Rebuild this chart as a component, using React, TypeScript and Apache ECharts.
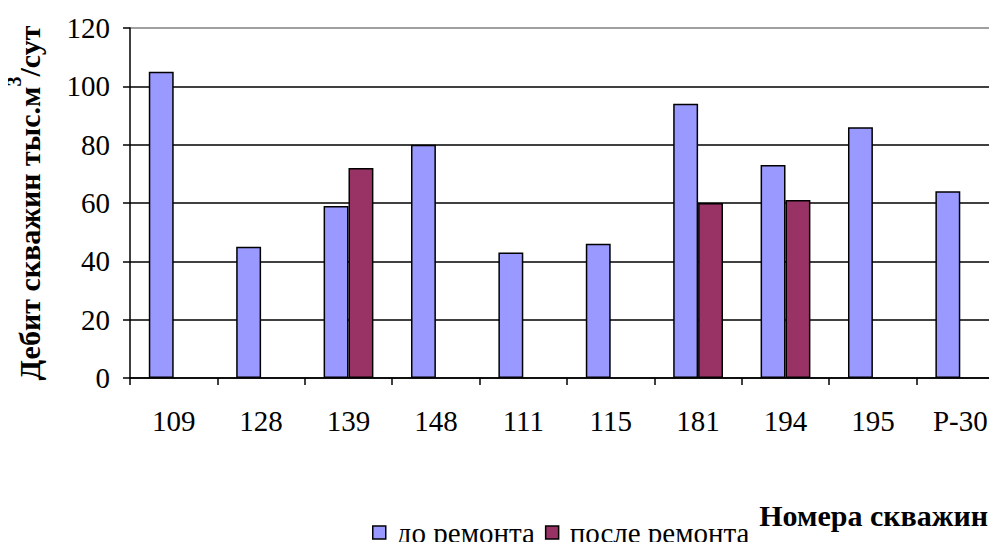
import React, { useEffect, useRef } from "react";
import * as echarts from "echarts";

const categories = ["109", "128", "139", "148", "111", "115", "181", "194", "195", "Р-30"];
const beforeRepair = [105, 45, 59, 80, 43, 46, 94, 73, 86, 64];
const afterRepair = [null, null, 72, null, null, null, 60, 61, null, null];
const seriesNames = ["до ремонта", "после ремонта"];
const yTicks = { min: 0, max: 120, interval: 20 };

const FONT = '"Liberation Serif", "Times New Roman", serif';

export default function App() {
  const ref = useRef<HTMLDivElement>(null);
  useEffect(() => {
    const chart = echarts.init(ref.current!, undefined, { renderer: "svg" });
    chart.setOption({
      animation: false,
      backgroundColor: "#ffffff",
      textStyle: { fontFamily: FONT, color: "#000" },
      grid: { left: 130, top: 28, right: -7, bottom: 172, containLabel: false, outerBoundsMode: "none" },
      legend: {
        bottom: -2,
        left: 367,
        itemWidth: 13,
        itemHeight: 13,
        itemGap: 10,
        icon: "rect",
        textStyle: { fontFamily: FONT, fontSize: 29, color: "#000", padding: [0, 0, 0, 6] },
        itemStyle: { borderColor: "#000", borderWidth: 1.5 },
        data: seriesNames,
      },
      xAxis: {
        type: "category",
        data: categories,
        axisLine: { lineStyle: { color: "#000", width: 1.5 } },
        axisTick: { show: true, inside: false, length: 7, lineStyle: { color: "#000", width: 1.5 } },
        axisLabel: { margin: 28, fontFamily: FONT, fontSize: 29, color: "#000" },
      },
      yAxis: {
        type: "value",
        min: yTicks.min,
        max: yTicks.max,
        interval: yTicks.interval,
        name: "{a|Дебит скважин тыс.м}{s|3}{a|/сут}",
        nameLocation: "middle",
        nameRotate: 90,
        nameGap: 86,
        nameTextStyle: {
          rich: {
            a: { fontFamily: FONT, fontSize: 30, fontWeight: "bold", color: "#000", verticalAlign: "bottom", lineHeight: 40 },
            s: { fontFamily: FONT, fontSize: 20, fontWeight: "bold", color: "#000", verticalAlign: "top", lineHeight: 40 },
          },
        },
        axisLine: { show: true, lineStyle: { color: "#000", width: 1.5 } },
        axisTick: { show: true, inside: false, length: 7, lineStyle: { color: "#000", width: 1.5 } },
        axisLabel: { margin: 20, fontFamily: FONT, fontSize: 29, color: "#000" },
        splitLine: {
          show: true,
          lineStyle: { color: ["#000", "#000", "#000", "#000", "#000", "#000", "#808080"], width: 1.5 },
        },
      },
      graphic: [
        {
          type: "text",
          right: 9,
          top: 500,
          style: { text: "Номера скважин", font: `bold 30px ${FONT}`, fill: "#000" },
        },
      ],
      series: [
        {
          name: seriesNames[0],
          type: "bar",
          data: beforeRepair,
          barGap: "0%",
          barCategoryGap: "43%",
          itemStyle: { color: "#9999FF", borderColor: "#000", borderWidth: 1.5 },
        },
        {
          name: seriesNames[1],
          type: "bar",
          data: afterRepair,
          barGap: "0%",
          barCategoryGap: "43%",
          itemStyle: { color: "#993366", borderColor: "#000", borderWidth: 1.5 },
        },
      ],
    });
    return () => chart.dispose();
  }, []);
  return <div ref={ref} style={{ width: 997, height: 550, margin: -8 }} />;
}
